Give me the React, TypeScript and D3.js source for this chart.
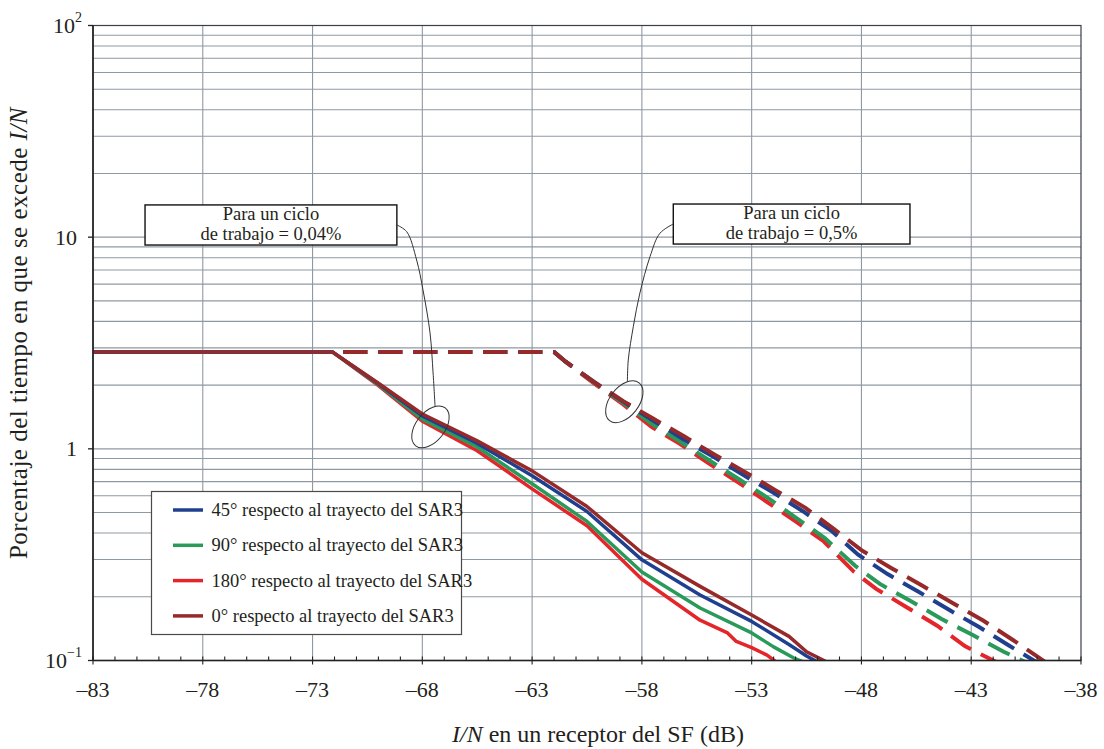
import React, { useEffect, useRef } from 'react';
import * as d3 from 'd3';

const X_TICKS = [-83, -78, -73, -68, -63, -58, -53, -48, -43, -38];
const Y_DECADES = [0.1, 1, 10, 100];
const Y_LABELS = [['10', '−1'], ['1', ''], ['10', ''], ['10', '2']];

const SERIES_NAMES = [
  '45° respecto al trayecto del SAR3',
  '90° respecto al trayecto del SAR3',
  '180° respecto al trayecto del SAR3',
  '0° respecto al trayecto del SAR3',
];
const SERIES_COLORS = ['#1f3f8f', '#2a9a5a', '#e4262b', '#962a2a'];

// duty cycle 0.04% (solid)
const solid45 = [[-83, 2.87], [-72.1, 2.87], [-70, 2.03], [-68, 1.43], [-65.5, 1.06], [-63, 0.746], [-60.5, 0.506], [-58, 0.299], [-55.35, 0.204], [-53, 0.153], [-51.3, 0.119], [-50.5, 0.105], [-49.97, 0.098]];
const solid90 = [[-83, 2.87], [-72.1, 2.87], [-70, 2.01], [-68, 1.38], [-65.5, 1.02], [-63, 0.684], [-60.5, 0.454], [-58, 0.262], [-55.35, 0.177], [-53, 0.135], [-52, 0.116], [-51.1, 0.103], [-50.6, 0.098]];
const solid180 = [[-83, 2.87], [-72.1, 2.87], [-70, 1.99], [-68, 1.35], [-65.5, 0.98], [-63, 0.647], [-60.5, 0.433], [-58, 0.242], [-55.35, 0.155], [-54.1, 0.135], [-53.7, 0.123], [-53, 0.115], [-52.3, 0.106], [-51.86, 0.098]];
const solid0 = [[-83, 2.87], [-72.1, 2.87], [-70, 2.04], [-68, 1.46], [-65.5, 1.09], [-63, 0.787], [-60.5, 0.534], [-58, 0.323], [-55.35, 0.224], [-53, 0.164], [-51.3, 0.13], [-50.5, 0.11], [-49.55, 0.098]];

// duty cycle 0.5% (dashed)
const dashed45 = [[-72.1, 2.87], [-62, 2.87], [-61.47, 2.58], [-60.18, 2.07], [-58.85, 1.67], [-57.49, 1.36], [-56.12, 1.11], [-54.72, 0.914], [-53.39, 0.753], [-52.02, 0.622], [-50.65, 0.506], [-49.33, 0.407], [-48.15, 0.316], [-46.81, 0.256], [-45.42, 0.212], [-44.03, 0.174], [-42.64, 0.144], [-41.3, 0.118], [-40.0, 0.098]];
const dashed90 = [[-72.1, 2.87], [-62, 2.87], [-61.47, 2.58], [-60.18, 2.06], [-58.85, 1.65], [-57.53, 1.31], [-56.19, 1.07], [-54.9, 0.878], [-53.54, 0.714], [-52.25, 0.585], [-50.96, 0.471], [-49.67, 0.379], [-48.3, 0.281], [-47.16, 0.23], [-45.76, 0.191], [-44.35, 0.157], [-42.93, 0.132], [-41.52, 0.11], [-40.5, 0.098]];
const dashed180 = [[-72.1, 2.87], [-62, 2.87], [-61.47, 2.57], [-60.18, 2.04], [-58.85, 1.62], [-57.56, 1.27], [-56.27, 1.056], [-54.99, 0.859], [-53.58, 0.691], [-52.31, 0.562], [-51.0, 0.454], [-49.71, 0.365], [-48.35, 0.263], [-47.33, 0.218], [-45.96, 0.179], [-44.55, 0.146], [-43.29, 0.117], [-41.83, 0.098]];
const dashed0 = [[-72.1, 2.87], [-62, 2.87], [-61.47, 2.58], [-60.18, 2.07], [-58.85, 1.68], [-57.49, 1.39], [-56.04, 1.14], [-54.68, 0.937], [-53.31, 0.778], [-51.94, 0.64], [-50.55, 0.526], [-49.26, 0.419], [-48.0, 0.332], [-46.63, 0.273], [-45.24, 0.226], [-43.81, 0.186], [-42.44, 0.154], [-41.1, 0.125], [-39.6, 0.098]];

// annotations, in data units (dB, %)
const NOTE_TEXT = [['Para un ciclo', 'de trabajo = 0,04%'], ['Para un ciclo', 'de trabajo = 0,5%']];
const NOTE_BOX = [[-80.63, 14.2, -69.16, 9.18], [-56.57, 14.34, -45.79, 9.28]];
const NOTE_RING = [[-67.63, 1.27], [-58.8, 1.67]];
const NOTE_LEADER = [
  [[-69.155, 11.41], [-68.71, 10.61], [-68.26, 7.8], [-67.97, 5.63], [-67.65, 3.53], [-67.51, 2.28], [-67.42, 1.58]],
  [[-56.57, 11.54], [-57.18, 10.43], [-57.63, 8.09], [-58.09, 5.45], [-58.39, 3.78], [-58.62, 2.63], [-58.66, 2.08]],
];

const FONT = '"Liberation Serif", "Times New Roman", serif';

export default function App() {
  const ref = useRef<SVGSVGElement>(null);

  useEffect(() => {
    const svg = d3.select(ref.current);
    svg.selectAll('*').remove();

    const left = 93, right = 1081, top = 25.5, bottom = 660.5;
    const x = d3.scaleLinear().domain([-83, -38]).range([left, right]);
    const y = d3.scaleLog().domain([0.1, 100]).range([bottom, top]);

    svg.append('rect').attr('width', 1104).attr('height', 749).attr('fill', '#fff');

    svg.append('clipPath').attr('id', 'plot')
      .append('rect').attr('x', left).attr('y', top)
      .attr('width', right - left).attr('height', bottom - top);

    // grid
    const grid = svg.append('g').attr('stroke', '#8f99a3').attr('stroke-width', 1.1);
    const minors: number[] = [];
    [0.1, 1, 10].forEach(d => { for (let k = 1; k <= 9; k++) minors.push(d * k); });
    minors.filter(v => v > 0.1).forEach(v => {
      grid.append('line').attr('x1', left).attr('x2', right).attr('y1', y(v)).attr('y2', y(v));
    });
    X_TICKS.slice(1, -1).forEach(t => {
      grid.append('line').attr('x1', x(t)).attr('x2', x(t)).attr('y1', top).attr('y2', bottom);
    });

    // frame
    svg.append('rect').attr('x', left).attr('y', top).attr('width', right - left).attr('height', bottom - top)
      .attr('fill', 'none').attr('stroke', '#3a3f45').attr('stroke-width', 1.2);

    const line = d3.line<number[]>().x(d => x(d[0])).y(d => y(d[1]));
    const plot = svg.append('g').attr('clip-path', 'url(#plot)');

    const solids = [solid45, solid90, solid180, solid0];
    const dashes = [dashed45, dashed90, dashed180, dashed0];
    const order = [2, 1, 0, 3];

    order.forEach(i => {
      plot.append('path').datum(dashes[i]).attr('d', line)
        .attr('fill', 'none').attr('stroke', SERIES_COLORS[i]).attr('stroke-width', 4)
        .attr('stroke-dasharray', '24 11').attr('stroke-dashoffset', 24);
    });
    order.forEach(i => {
      plot.append('path').datum(solids[i]).attr('d', line)
        .attr('fill', 'none').attr('stroke', SERIES_COLORS[i]).attr('stroke-width', 3.5)
        .attr('stroke-linejoin', 'round');
    });

    // axes
    const ax = svg.append('g').attr('stroke', '#222');
    ax.append('line').attr('x1', left).attr('x2', right).attr('y1', bottom).attr('y2', bottom).attr('stroke-width', 1.6);
    ax.append('line').attr('x1', left).attr('x2', left).attr('y1', top).attr('y2', bottom).attr('stroke-width', 1.6);
    d3.range(-83, -37, 1).forEach(t => {
      const major = (t + 83) % 5 === 0;
      ax.append('line').attr('x1', x(t)).attr('x2', x(t))
        .attr('y1', bottom - 4).attr('y2', major ? bottom + 4 : bottom).attr('stroke-width', 1.1);
    });
    Y_DECADES.forEach(v => {
      ax.append('line').attr('x1', left - 5).attr('x2', left).attr('y1', y(v)).attr('y2', y(v)).attr('stroke-width', 1.3);
    });

    const txt = svg.append('g').attr('font-family', FONT).attr('fill', '#231f20');
    X_TICKS.forEach(t => {
      txt.append('text').attr('x', x(t)).attr('y', bottom + 36).attr('text-anchor', 'middle')
        .attr('font-size', 22).text(`–${Math.abs(t)}`);
    });
    Y_DECADES.forEach((v, i) => {
      const [base, sup] = Y_LABELS[i];
      const t = txt.append('text').attr('x', sup ? 82 : 77).attr('y', y(v) + 7.5)
        .attr('text-anchor', 'end').attr('font-size', 22);
      t.append('tspan').text(base);
      if (sup) t.append('tspan').attr('dy', -11).attr('font-size', 14).text(sup);
    });

    const xt = txt.append('text').attr('x', 598).attr('y', 742).attr('text-anchor', 'middle').attr('font-size', 24);
    xt.append('tspan').attr('font-style', 'italic').text('I/N');
    xt.append('tspan').text(' en un receptor del SF (dB)');

    const yt = txt.append('text').attr('transform', 'translate(27,333) rotate(-90)')
      .attr('text-anchor', 'middle').attr('font-size', 25).attr('letter-spacing', 0.5);
    yt.append('tspan').text('Porcentaje del tiempo en que se excede ');
    yt.append('tspan').attr('font-style', 'italic').text('I/N');

    // legend
    const lg = svg.append('g');
    lg.append('rect').attr('x', 151.5).attr('y', 491.5).attr('width', 310).attr('height', 143)
      .attr('fill', '#fff').attr('stroke', '#4a4a4a').attr('stroke-width', 1.2);
    SERIES_NAMES.forEach((name, i) => {
      const ly = 510 + i * 35.3;
      lg.append('line').attr('x1', 173).attr('x2', 203).attr('y1', ly).attr('y2', ly)
        .attr('stroke', SERIES_COLORS[i]).attr('stroke-width', 3.5);
      lg.append('text').attr('x', 211.5).attr('y', ly + 6).attr('font-family', FONT)
        .attr('font-size', 18.5).attr('fill', '#231f20').text(name);
    });

    // notes
    const notes = svg.append('g');
    NOTE_BOX.forEach((b, i) => {
      const [x0, y0, x1, y1] = b;
      notes.append('rect').attr('x', x(x0)).attr('y', y(y0)).attr('width', x(x1) - x(x0)).attr('height', y(y1) - y(y0))
        .attr('fill', '#fff').attr('stroke', '#111').attr('stroke-width', 1.4);
      const cx = (x(x0) + x(x1)) / 2;
      NOTE_TEXT[i].forEach((s, j) => {
        notes.append('text').attr('x', cx).attr('y', y(y0) + 15 + j * 20).attr('text-anchor', 'middle')
          .attr('font-family', FONT).attr('font-size', 18.5).attr('fill', '#231f20').text(s);
      });
    });
    const leader = d3.line<number[]>().x(d => x(d[0])).y(d => y(d[1])).curve(d3.curveCatmullRom);
    NOTE_LEADER.forEach(pts => {
      notes.append('path').datum(pts).attr('d', leader).attr('fill', 'none').attr('stroke', '#333').attr('stroke-width', 1);
    });
    NOTE_RING.forEach(([dx, dv]) => {
      notes.append('ellipse').attr('cx', 0).attr('cy', 0).attr('rx', 24).attr('ry', 14.5)
        .attr('transform', `translate(${x(dx)},${y(dv)}) rotate(-52)`)
        .attr('fill', 'none').attr('stroke', '#333').attr('stroke-width', 1);
    });
  }, []);

  return (
    <svg ref={ref} width={1104} height={749} style={{ position: 'absolute', left: 0, top: 0 }} />
  );
}
